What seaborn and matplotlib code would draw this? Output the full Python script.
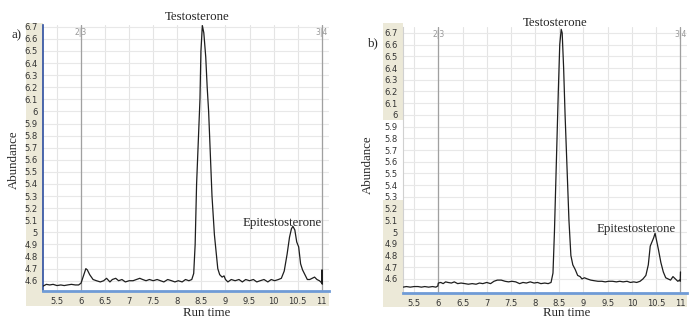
import matplotlib
matplotlib.use("Agg")
import matplotlib.pyplot as plt
import seaborn as sns
import pandas as pd
from matplotlib.patches import Rectangle

sns.set_theme(style="white")
plt.rcParams['font.family'] = ['DejaVu Sans']

# ---- data: panel a ----
time_a = [5.21, 5.28, 5.35, 5.42, 5.5, 5.58, 5.65, 5.72, 5.8, 5.88, 5.95, 6.0, 6.05, 6.1, 6.13,
          6.18, 6.25, 6.32, 6.4, 6.47, 6.53, 6.6, 6.65, 6.72, 6.78, 6.85, 6.92, 7.0, 7.08, 7.15,
          7.22, 7.28, 7.35, 7.42, 7.5, 7.58, 7.65, 7.72, 7.8, 7.88, 7.95, 8.02, 8.1, 8.17, 8.24,
          8.3, 8.34, 8.37, 8.40, 8.44, 8.47, 8.49, 8.52, 8.55, 8.59, 8.62, 8.65, 8.69, 8.72,
          8.77, 8.84, 8.88, 8.93, 8.97, 9.0, 9.05, 9.12, 9.2, 9.28, 9.35, 9.42, 9.5, 9.58, 9.65,
          9.72, 9.8, 9.88, 9.95, 10.02, 10.1, 10.16, 10.22, 10.28, 10.33, 10.37, 10.40, 10.44,
          10.48, 10.52, 10.56, 10.6, 10.65, 10.7, 10.75, 10.8, 10.85, 10.9, 10.95, 10.98, 11.0,
          11.005, 11.01]
abund_a = [4.555, 4.57, 4.565, 4.57, 4.56, 4.565, 4.56, 4.565, 4.57, 4.565, 4.565, 4.58, 4.64,
           4.70, 4.69, 4.65, 4.61, 4.60, 4.59, 4.60, 4.62, 4.59, 4.61, 4.62, 4.60, 4.61, 4.59,
           4.60, 4.60, 4.61, 4.62, 4.61, 4.60, 4.61, 4.60, 4.61, 4.60, 4.59, 4.61, 4.60, 4.59,
           4.60, 4.59, 4.61, 4.60, 4.61, 4.66, 4.90, 5.40, 5.80, 6.10, 6.50, 6.71, 6.65, 6.45,
           6.20, 6.00, 5.60, 5.30, 4.98, 4.70, 4.65, 4.63, 4.64, 4.61, 4.59, 4.61, 4.60, 4.61,
           4.59, 4.61, 4.60, 4.61, 4.59, 4.60, 4.61, 4.59, 4.61, 4.60, 4.61, 4.62, 4.68, 4.82,
           4.96, 5.03, 5.05, 5.02, 4.92, 4.88, 4.74, 4.69, 4.65, 4.61, 4.61, 4.62, 4.63, 4.61,
           4.60, 4.59, 4.58, 4.69, 4.57]

# ---- data: panel b ----
time_b = [5.27, 5.34, 5.42, 5.5, 5.58, 5.65, 5.72, 5.8, 5.88, 5.95, 5.99, 6.0, 6.05, 6.1, 6.15,
          6.2, 6.27, 6.33, 6.4, 6.47, 6.55, 6.62, 6.7, 6.78, 6.85, 6.92, 7.0, 7.08, 7.15, 7.22,
          7.3, 7.38, 7.45, 7.52, 7.6, 7.68, 7.75, 7.82, 7.9, 7.98, 8.05, 8.12, 8.2, 8.27, 8.33,
          8.37, 8.40, 8.44, 8.48, 8.51, 8.54, 8.56, 8.59, 8.62, 8.66, 8.70, 8.74, 8.78, 8.83,
          8.88, 8.93, 8.97, 9.02, 9.08, 9.15, 9.22, 9.3, 9.38, 9.45, 9.52, 9.6, 9.68, 9.75,
          9.82, 9.9, 9.97, 10.04, 10.1, 10.17, 10.23, 10.29, 10.34, 10.38, 10.42, 10.45, 10.48,
          10.51, 10.55, 10.6, 10.65, 10.7, 10.75, 10.8, 10.85, 10.9, 10.95, 10.99, 11.0, 11.005]
abund_b = [4.53, 4.535, 4.53, 4.535, 4.535, 4.53, 4.535, 4.53, 4.535, 4.53, 4.54, 4.565, 4.57,
           4.56, 4.575, 4.57, 4.565, 4.575, 4.56, 4.565, 4.56, 4.555, 4.56, 4.555, 4.565, 4.56,
           4.57, 4.56, 4.58, 4.59, 4.59, 4.58, 4.575, 4.58, 4.575, 4.56, 4.57, 4.565, 4.575,
           4.565, 4.57, 4.56, 4.565, 4.56, 4.57, 4.65, 5.00, 5.60, 6.20, 6.60, 6.73, 6.70,
           6.40, 6.00, 5.55, 5.10, 4.80, 4.72, 4.68, 4.63, 4.62, 4.60, 4.61, 4.60, 4.59, 4.585,
           4.58, 4.58, 4.575, 4.58, 4.58, 4.575, 4.58, 4.575, 4.58, 4.57, 4.575, 4.57, 4.58,
           4.60, 4.63, 4.72, 4.88, 4.92, 4.95, 4.99, 4.93, 4.85, 4.74, 4.66, 4.61, 4.60, 4.59,
           4.62, 4.60, 4.58, 4.59, 4.58, 4.66]

xticks = [5.5, 6, 6.5, 7, 7.5, 8, 8.5, 9, 9.5, 10, 10.5, 11]
xtick_labels = ["5.5", "6", "6.5", "7", "7.5", "8", "8.5", "9", "9.5", "10", "10.5", "11"]
yticks = [4.6, 4.7, 4.8, 4.9, 5.0, 5.1, 5.2, 5.3, 5.4, 5.5, 5.6, 5.7, 5.8, 5.9, 6.0,
          6.1, 6.2, 6.3, 6.4, 6.5, 6.6, 6.7]
ytick_labels = ["4.6", "4.7", "4.8", "4.9", "5", "5.1", "5.2", "5.3", "5.4", "5.5", "5.6",
                "5.7", "5.8", "5.9", "6", "6.1", "6.2", "6.3", "6.4", "6.5", "6.6", "6.7"]
segment_marks = [6, 11]
segment_texts = ["2|3", "3|4"]

W, H = 700, 327
fig = plt.figure(figsize=(7.0, 3.27), dpi=100)

def fx(px):
    return px / W

def fy(py):
    return 1 - py / H

beige = "#ECE9D8"

def rect(x0, y0, x1, y1):
    fig.patches.append(Rectangle((fx(x0), fy(y1)), fx(x1) - fx(x0), fy(y0) - fy(y1),
                                 transform=fig.transFigure, facecolor=beige,
                                 edgecolor="none", zorder=-5))

# beige frames (panel a)
rect(26, 23, 43, 306)
rect(26, 291, 329, 306)
# beige frames (panel b)
rect(383, 23, 403, 120)
rect(383, 200, 403, 307)
rect(383, 293, 687, 307)

def make_panel(rect_px, times, abunds, xlim, ylim, left_color, left_lw):
    l, t, r, b = rect_px
    ax = fig.add_axes([fx(l), fy(b), fx(r) - fx(l), fy(t) - fy(b)])
    ax.set_facecolor("white")
    for v in xticks:
        ax.axvline(v, color="#e4e4e4", lw=0.8, zorder=0)
    for v in yticks:
        ax.axhline(v, color="#e8e8e8", lw=0.8, zorder=0)
    for v, s in zip(segment_marks, segment_texts):
        ax.axvline(v, color="#a0a0a0", lw=0.9, zorder=1)
        ax.text(v, ylim[1] - 0.012 * (ylim[1] - ylim[0]), s, ha="center", va="top",
                fontsize=5.5, color="#999999")
    df = pd.DataFrame({"Run time": times, "Abundance": abunds})
    sns.lineplot(data=df, x="Run time", y="Abundance", ax=ax, sort=False,
                 estimator=None, color="#1e1e1e", lw=0.9, zorder=3)
    ax.set_xlim(*xlim)
    ax.set_ylim(*ylim)
    ax.set_xticks(xticks)
    ax.set_xticklabels(xtick_labels)
    ax.set_yticks(yticks)
    ax.set_yticklabels(ytick_labels)
    ax.tick_params(axis="both", labelsize=6, colors="#333333", length=2.5, width=0.6,
                   pad=1.5, direction="out")
    ax.tick_params(axis="x", length=2, pad=2.5)
    ax.set_xlabel("")
    ax.set_ylabel("")
    for side in ["top", "right"]:
        ax.spines[side].set_visible(False)
    ax.spines["left"].set_color(left_color)
    ax.spines["left"].set_linewidth(left_lw)
    ax.spines["bottom"].set_color("#6f9bd6")
    ax.spines["bottom"].set_linewidth(2.0)
    return ax

ax_a = make_panel((43, 25, 329, 291), time_a, abund_a, (5.21, 11.15), (4.515, 6.715),
                  "#2c4ea0", 1.2)
ax_b = make_panel((403, 27, 687, 293), time_b, abund_b, (5.27, 11.14), (4.48, 6.75),
                  "#d0d0d0", 0.8)

serif = ["Liberation Serif", "DejaVu Serif"]
fs = 9.3
fig.text(fx(197), fy(17), "Testosterone", ha="center", va="center", fontsize=fs, family=serif)
fig.text(fx(282), fy(223), "Epitestosterone", ha="center", va="center", fontsize=fs, family=serif)
fig.text(fx(17), fy(35), "a)", ha="center", va="center", fontsize=fs, family=serif)
fig.text(fx(14), fy(160), "Abundance", ha="center", va="center", rotation=90, fontsize=fs, family=serif)
fig.text(fx(207), fy(313), "Run time", ha="center", va="center", fontsize=fs, family=serif)

fig.text(fx(555), fy(23), "Testosterone", ha="center", va="center", fontsize=fs, family=serif)
fig.text(fx(636), fy(229), "Epitestosterone", ha="center", va="center", fontsize=fs, family=serif)
fig.text(fx(373), fy(43), "b)", ha="center", va="center", fontsize=fs, family=serif)
fig.text(fx(368), fy(165), "Abundance", ha="center", va="center", rotation=90, fontsize=fs, family=serif)
fig.text(fx(567), fy(313), "Run time", ha="center", va="center", fontsize=fs, family=serif)

fig.savefig("out.png", dpi=100)
